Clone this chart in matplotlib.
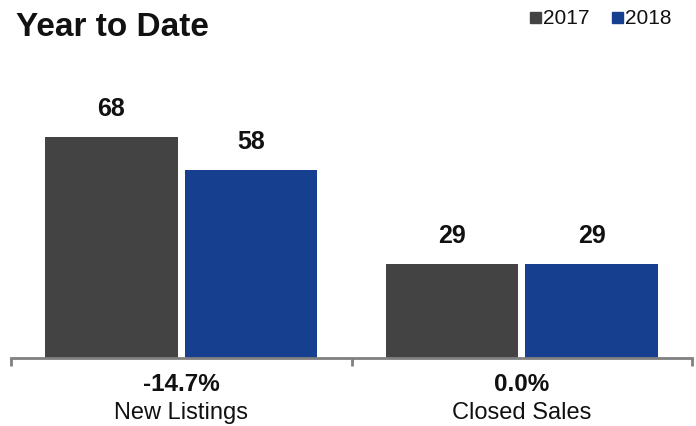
import matplotlib
matplotlib.use("Agg")
import matplotlib.pyplot as plt
import matplotlib.transforms as mtransforms

categories = ["New Listings", "Closed Sales"]
changes = ["-14.7%", "0.0%"]
series_names = ["2017", "2018"]
values_2017 = [68, 29]
values_2018 = [58, 29]
colors = ["#434343", "#163f8f"]

plt.rcParams["font.family"] = ["Liberation Sans", "DejaVu Sans"]

W, H = 696, 427
fig = plt.figure(figsize=(W / 100, H / 100), dpi=100)
ax = fig.add_axes([11 / W, 68 / H, 681 / W, 300 / H])

x = range(len(categories))
off, bw = 0.205, 0.39
for vals, sign, col in [(values_2017, -1, colors[0]), (values_2018, 1, colors[1])]:
    xs = [i + sign * off for i in x]
    ax.bar(xs, vals, width=bw, color=col, zorder=2)
    for xi, v in zip(xs, vals):
        ax.annotate(f"{v}", (xi, v), xytext=(0, 12), textcoords="offset points",
                    ha="center", va="bottom", fontsize=18, fontweight="bold",
                    color="#111111")

ax.set_xlim(-0.5, 1.5)
ax.set_ylim(0, 300 / 3.25)
for s in ["top", "right", "left"]:
    ax.spines[s].set_visible(False)
ax.spines["bottom"].set_color("#808080")
ax.spines["bottom"].set_linewidth(2)
ax.set_yticks([])
ax.set_xticks([-0.5, 0.5, 1.5])
ax.set_xticklabels([])
ax.tick_params(axis="x", length=6, width=2, color="#808080", direction="out")

trans = mtransforms.blended_transform_factory(ax.transData, fig.transFigure)
for i, (cat, ch) in enumerate(zip(categories, changes)):
    ax.text(i, 1 - 385 / H, ch, transform=trans, ha="center", va="center",
            fontsize=17.5, fontweight="bold", color="#111111")
    ax.text(i, 1 - 413 / H, cat, transform=trans, ha="center", va="center",
            fontsize=17, color="#111111")

fig.text(16 / W, 1 - 27 / H, "Year to Date", ha="left", va="center",
         fontsize=24, fontweight="bold", color="#111111")

# legend squares and labels
for name, col, sx in zip(series_names, colors, [530, 612]):
    fig.patches.append(plt.Rectangle((sx / W, 1 - 24 / H), 11 / W, 11 / H,
                                     transform=fig.transFigure, color=col,
                                     figure=fig))
    fig.text((sx + 13) / W, 1 - 18 / H, name, ha="left", va="center",
             fontsize=15, color="#111111")

fig.savefig("out.png", dpi=100)
